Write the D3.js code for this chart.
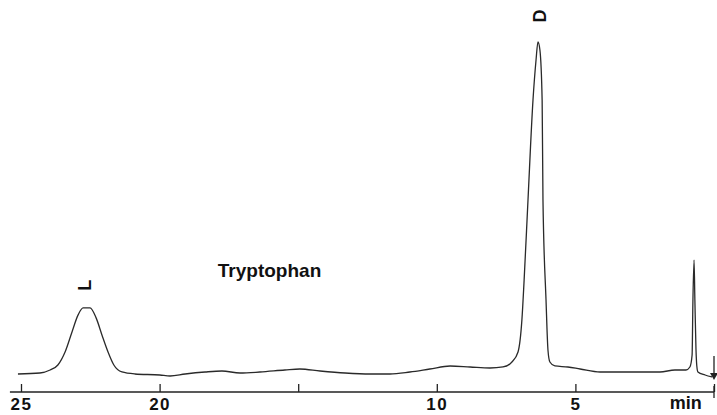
<!DOCTYPE html>
<html>
<head>
<meta charset="utf-8">
<script src="https://cdn.jsdelivr.net/npm/d3@7"></script>
<style>
  body { margin: 0; background: #fff; }
  svg { display: block; }
  text { font-family: "Liberation Sans", Arial, sans-serif; font-weight: bold; fill: #111; }
</style>
</head>
<body>
<div id="chart"></div>
<script>
// retention time (min) and detector signal (peak D = 100)
const times = [25.11, 24.32, 23.95, 23.67, 23.41, 23.16, 22.94, 22.76, 22.51, 22.29, 22.08, 21.86, 21.65, 21.36,
  20.89, 19.99, 19.62, 19.08, 18.36, 17.75, 17.10, 16.38, 15.48, 14.94, 14.21, 13.31, 12.41, 11.69, 10.97,
  10.25, 9.52, 8.80, 8.08, 7.61, 7.29, 7.07, 6.93, 6.85, 6.71, 6.53, 6.42, 6.35, 6.28, 6.20, 6.17, 6.06,
  5.99, 5.92, 5.74, 5.27, 4.83, 4.11, 3.39, 2.67, 1.95, 1.41, 1.01, 0.87, 0.79, 0.76, 0.72, 0.69, 0.65,
  0.62, 0.58, 0.32, 0.07];
const signal = [0.6, 0.9, 1.8, 3.3, 7.2, 13.2, 18.3, 20.4, 20.4, 17.4, 12.3, 7.2, 3.3, 1.2,
  0.6, 0.3, 0, 0.6, 1.2, 1.5, 0.9, 1.2, 1.8, 2.1, 1.5, 0.9, 0.6, 0.6, 1.2,
  2.1, 3.0, 2.7, 2.4, 2.7, 4.2, 7.2, 16.8, 28.7, 52.7, 82.6, 94.6, 100, 97.6, 82.6, 52.7, 22.8,
  7.8, 4.2, 3.0, 2.7, 2.1, 1.2, 1.2, 1.2, 1.2, 1.8, 1.8, 2.7, 6.3, 22.8, 34.7, 22.8, 8.0,
  3.0, 1.2, 0.3, -0.3];

const tickValues = [25, 20, 15, 10, 5, 0];
const tickLabels = ['25', '20', '', '10', '5', ''];
const unitLabel = 'min';

// peak labels: [text, time, signal]
const peakLabels = [['L', 22.69, 27.2], ['D', 6.28, 107.8]];
const title = 'Tryptophan';

const width = 717, height = 415;
const svg = d3.select('#chart').append('svg').attr('width', width).attr('height', height);

const x = d3.scaleLinear().domain([25, 0]).range([21, 714]);
const y = d3.scaleLinear().domain([0, 100]).range([376, 42]);
const axisY = 392;

// axis line, reaching a bit past 25 like the recorder paper
svg.append('line')
  .attr('x1', x(25.4)).attr('x2', x(0))
  .attr('y1', axisY).attr('y2', axisY)
  .attr('stroke', '#222').attr('stroke-width', 1.3);

const axis = d3.axisBottom(x)
  .tickValues(tickValues)
  .tickSizeInner(-8)
  .tickSizeOuter(0)
  .tickPadding(6)
  .tickFormat((d, i) => tickLabels[i]);

const g = svg.append('g').attr('transform', `translate(0,${axisY})`).call(axis);
g.select('.domain').remove();
g.selectAll('.tick line').attr('stroke', '#222').attr('stroke-width', 1.3);
g.selectAll('.tick text')
  .attr('font-size', 17)
  .attr('letter-spacing', 1.5)
  .style('font-family', '"Liberation Sans", Arial, sans-serif')
  .style('font-weight', 'bold')
  .attr('fill', '#111');

// end tick at 0 crosses the axis
svg.append('line')
  .attr('x1', x(0)).attr('x2', x(0))
  .attr('y1', axisY - 6).attr('y2', axisY + 6)
  .attr('stroke', '#222').attr('stroke-width', 1.3);

svg.append('text')
  .attr('x', x(1.02)).attr('y', 409)
  .attr('text-anchor', 'middle')
  .attr('font-size', 18)
  .text(unitLabel);

// trace
const pts = times.map((t, i) => [t, signal[i]]);
const line = d3.line()
  .x(d => x(d[0]))
  .y(d => y(d[1]))
  .curve(d3.curveMonotoneX);

svg.append('path')
  .datum(pts)
  .attr('d', line)
  .attr('fill', 'none')
  .attr('stroke', '#2a2a2a')
  .attr('stroke-width', 1.3)
  .attr('stroke-linejoin', 'round');

// injection arrow at 0
svg.append('line')
  .attr('x1', x(0)).attr('x2', x(0))
  .attr('y1', y(6)).attr('y2', y(-0.6))
  .attr('stroke', '#222').attr('stroke-width', 1.3);
svg.append('path')
  .attr('d', `M${x(0) - 4},${y(0.9)} L${x(0)},${y(-1.2)} L${x(0) + 4},${y(0.9)} Z`)
  .attr('fill', '#222');

// peak labels (rotated)
peakLabels.forEach(p => {
  svg.append('text')
    .attr('transform', `translate(${x(p[1])},${y(p[2])}) rotate(-90)`)
    .attr('text-anchor', 'middle')
    .attr('dominant-baseline', 'central')
    .attr('font-size', 18)
    .text(p[0]);
});

svg.append('text')
  .attr('x', x(17.9)).attr('y', 277)
  .attr('font-size', 19)
  .text(title);
</script>
</body>
</html>
